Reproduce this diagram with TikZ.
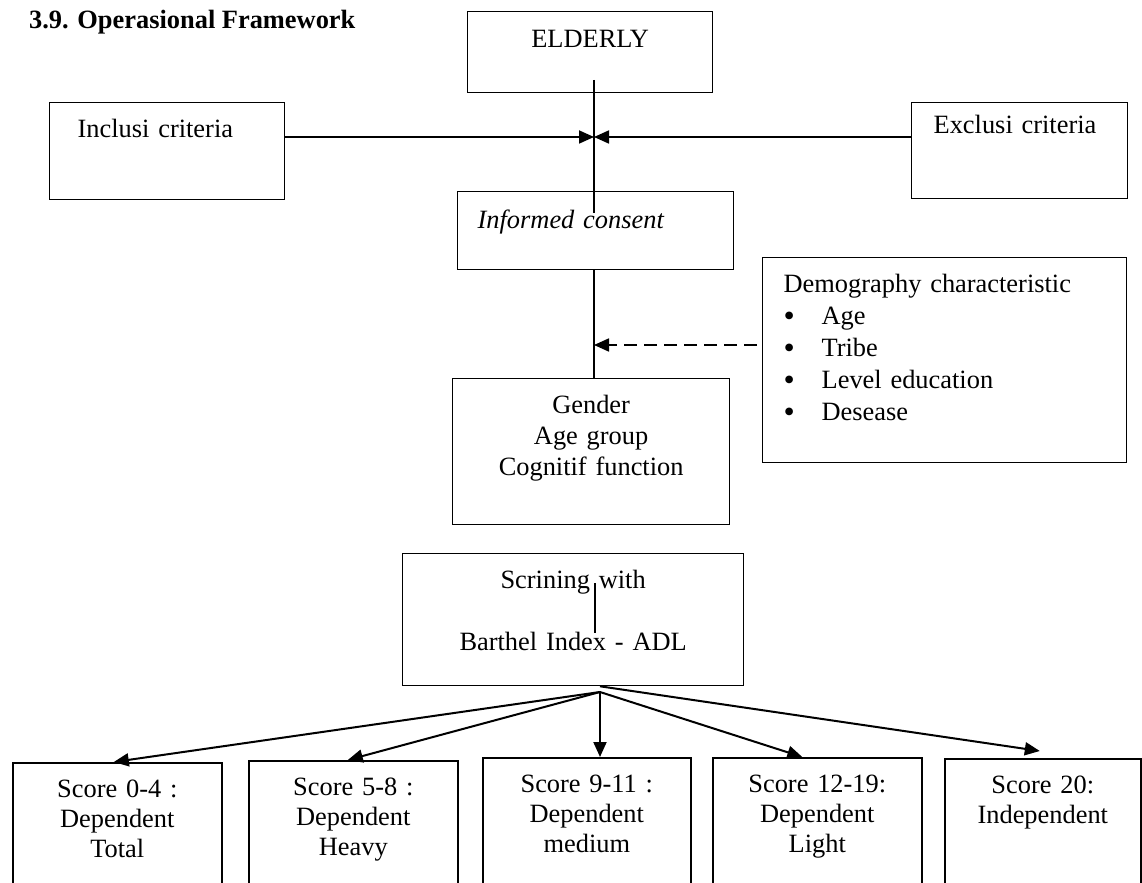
\documentclass[tikz,border=0pt]{standalone}
\usepackage{fontspec}
\setmainfont{Liberation Serif}
\usetikzlibrary{arrows.meta}

\newcommand{\bigbul}{\makebox[19pt][l]{\raisebox{-.8pt}{\fontsize{16}{16}\selectfont\textbullet}}}

\begin{document}
\begin{tikzpicture}[x=.5pt,y=-.5pt,
  font=\fontsize{13.2}{15.5}\selectfont,
  box/.style={draw,line width=.65pt,anchor=north west,inner xsep=0pt,inner ysep=0pt,align=center,text height=17.5pt},
  leftbox/.style={box,align=left},
  scorebox/.style={box,line width=.8pt,text width=104.5pt,text depth=51.5pt,font=\fontsize{13.2}{15}\selectfont},
  arr/.style={-{Triangle[length=7.5pt,width=6.5pt]},line width=.9pt},
  fanarr/.style={arr,line width=1pt},
  dasharr/.style={arr,dash pattern=on 6.5pt off 3.5pt}]
\useasboundingbox (0,0) rectangle (1142,883);
\clip (0,0) rectangle (1142,883);
\node[anchor=base west,font=\fontsize{13.2}{15.5}\selectfont\bfseries] (title) at (22,29) {3.9. Operasional Framework};
% upper part
\node[box,text width=122.5pt,text height=18pt,text depth=22.5pt] (elderly) at (467,11) {ELDERLY};
\node[leftbox,inner xsep=14pt,text width=89.5pt,text depth=31pt] (incl) at (49,102) {Inclusi criteria};
\node[leftbox,inner xsep=11pt,text width=86pt,text height=15.5pt,text depth=32.5pt] (excl) at (911,102) {Exclusi criteria};
\node[leftbox,inner xsep=10pt,text width=118pt,text height=18.5pt,text depth=20.5pt,font=\fontsize{13.2}{15.5}\selectfont\itshape] (inf) at (457,191) {Informed consent};
\node[box,text width=138.5pt,text depth=55.5pt] (gender) at (452,378) {Gender\\Age group\\Cognitif function};
\node[leftbox,inner xsep=10.5pt,text width=161pt,text depth=85pt,font=\fontsize{13.2}{16}\selectfont] (demo) at (762,257)
  {Demography characteristic\\
   \bigbul Age\\
   \bigbul Tribe\\
   \bigbul Level education\\
   \bigbul Desease};
\coordinate (spinetop) at (594,80);
\coordinate (spinebot) at (594,213);
\coordinate (meet) at (594,137);
\coordinate (dmeet) at (594,345);
\draw[line width=.55pt] (spinetop) -- (spinebot);
\draw[line width=.55pt] (inf.south -| spinetop) -- (gender.north -| spinetop);
\draw[arr] (incl.east |- meet) -- (meet);
\draw[arr] (excl.west |- meet) -- (meet);
\draw[dasharr] ([xshift=-2.5pt]demo.west |- dmeet) -- (dmeet);
% screening and scores
\node[box,text width=170.5pt,text depth=48.5pt] (scr) at (402,553) {Scrining with\\[15.5pt]Barthel Index - ADL};
\coordinate (scrA) at (595,583);
\coordinate (scrB) at (595,633);
\draw[line width=.55pt] (scrA) -- (scrB);
\node[scorebox] (s04) at (12,762) {Score 0-4 :\\Dependent\\Total};
\node[scorebox] (s58) at (248,760) {Score 5-8 :\\Dependent\\Heavy};
\node[scorebox,text width=104pt] (s911) at (482,757) {Score 9-11 :\\Dependent\\medium};
\node[scorebox] (s1219) at (712,757) {Score 12-19:\\Dependent\\Light};
\node[scorebox,text width=98pt] (s20) at (944,758) {Score 20:\\Independent};
\coordinate (fan) at (600,692);
\draw[fanarr] (fan) -- ([xshift=-1.75pt]s04.north);
\draw[fanarr] (fan) -- ([xshift=-2.75pt]s58.north);
\draw[fanarr] (fan) -- (fan |- s911.north);
\draw[fanarr] (fan) -- ([xshift=-7.5pt]s1219.north);
\draw[fanarr] (scr.south -| fan) -- ([xshift=-1.5pt,yshift=3.5pt]s20.north);
\end{tikzpicture}
\end{document}
